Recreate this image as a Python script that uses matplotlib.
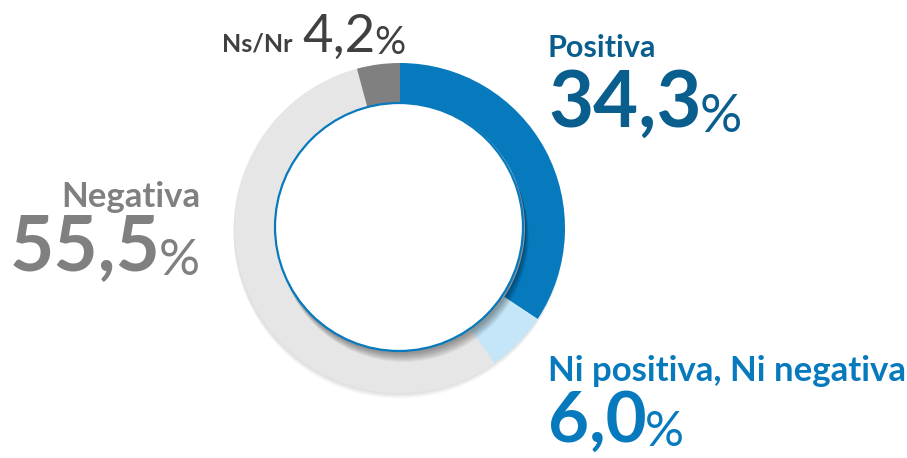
import matplotlib
matplotlib.use("Agg")
import matplotlib.pyplot as plt
from matplotlib.patches import Circle

labels = ["Positiva", "Ni positiva, Ni negativa", "Negativa", "Ns/Nr"]
values = [34.3, 6.0, 55.5, 4.2]
value_texts = ["34,3", "6,0", "55,5", "4,2"]
colors = ["#0779BD", "#C5E6F8", "#E6E6E6", "#808080"]

W, H = 907, 458
fig = plt.figure(figsize=(W / 100, H / 100), dpi=100)
ax = fig.add_axes([0, 0, 1, 1])
ax.set_xlim(0, W)
ax.set_ylim(0, H)
ax.set_aspect("equal")
ax.axis("off")

cx, cy = 400, 230
R = 165
ring = 40

# faint outer shadow
for d in range(1, 6):
    ax.add_patch(Circle((cx - 1, cy - d), R + 0.5, color="black", alpha=0.025, lw=0, zorder=0))

ax.pie(values, colors=colors, startangle=90, counterclock=False,
       radius=R, center=(cx, cy),
       wedgeprops=dict(width=ring, linewidth=0, edgecolor="none"))
ax.set_xlim(0, W)
ax.set_ylim(0, H)

# inner circle shadow
for d in range(1, 10):
    ax.add_patch(Circle((cx + 0.4 * d, cy - d), R - ring, color="black", alpha=0.045, lw=0, zorder=3))
ax.add_patch(Circle((cx - 1, cy + 1), R - ring - 1, facecolor="white", edgecolor="#0779BD", lw=1.6, zorder=4))

FONT = "Lato"


def py(y):
    return H - y


def label(x, y, text, color, size, ha="left"):
    ax.text(x, py(y), text, fontsize=size, fontweight="bold", color=color,
            ha=ha, va="baseline", family=FONT, zorder=10)


def number_pct(x, y, num, color, num_size, pct_size, ha="left", num_weight="bold",
               pct_weight="normal", gap=-1.5):
    if ha == "left":
        t = ax.text(x, py(y), num, fontsize=num_size, fontweight=num_weight, color=color,
                    ha="left", va="baseline", family=FONT, zorder=10)
        ax.annotate("%", xy=(1, 0), xycoords=t, xytext=(gap, 0), textcoords="offset points",
                    fontsize=pct_size, fontweight=pct_weight, color=color, ha="left", va="bottom",
                    family=FONT, zorder=10)
    else:
        p = ax.text(x, py(y), "%", fontsize=pct_size, fontweight=pct_weight, color=color,
                    ha="right", va="baseline", family=FONT, zorder=10)
        ax.annotate(num, xy=(0, 0), xycoords=p, xytext=(-gap, 0), textcoords="offset points",
                    fontsize=num_size, fontweight=num_weight, color=color, ha="right", va="bottom",
                    family=FONT, zorder=10)


# Positiva
label(548, 57, labels[0], "#0A5E8E", 22)
number_pct(548, 127, value_texts[0], "#0A5E8E", 56, 38)

# Ni positiva, Ni negativa
label(548, 381, labels[1], "#0779BD", 25)
number_pct(548, 442, value_texts[1], "#0779BD", 51, 35)

# Negativa
label(200, 207, labels[2], "#808080", 25, ha="right")
number_pct(200, 275, value_texts[2], "#808080", 55, 37, ha="right")

# Ns/Nr
label(293, 51, labels[3], "#404040", 18, ha="right")
number_pct(302, 52, value_texts[3], "#404040", 38, 28, num_weight="normal", pct_weight="normal", gap=-1)

fig.savefig("out.png", dpi=100, facecolor="white")
